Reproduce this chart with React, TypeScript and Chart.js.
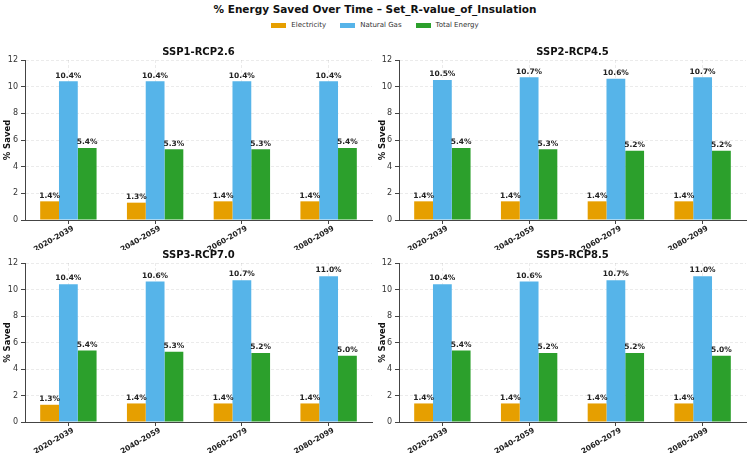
import React, { useEffect, useRef } from "react";
import { Chart, registerables } from "chart.js";

Chart.register(...registerables);

const chartTitle = "% Energy Saved Over Time – Set_R-value_of_Insulation";
const periods = ["2020-2039", "2040-2059", "2060-2079", "2080-2099"];
const seriesNames = ["Electricity", "Natural Gas", "Total Energy"];
const seriesColors = ["#E69F00", "#56B4E9", "#2CA02C"];
const scenarios = ["SSP1-RCP2.6", "SSP2-RCP4.5", "SSP3-RCP7.0", "SSP5-RCP8.5"];

const ssp1Electricity = [1.4, 1.3, 1.4, 1.4];
const ssp1NaturalGas = [10.4, 10.4, 10.4, 10.4];
const ssp1Total = [5.4, 5.3, 5.3, 5.4];

const ssp2Electricity = [1.4, 1.4, 1.4, 1.4];
const ssp2NaturalGas = [10.5, 10.7, 10.6, 10.7];
const ssp2Total = [5.4, 5.3, 5.2, 5.2];

const ssp3Electricity = [1.3, 1.4, 1.4, 1.4];
const ssp3NaturalGas = [10.4, 10.6, 10.7, 11.0];
const ssp3Total = [5.4, 5.3, 5.2, 5.0];

const ssp5Electricity = [1.4, 1.4, 1.4, 1.4];
const ssp5NaturalGas = [10.4, 10.6, 10.7, 11.0];
const ssp5Total = [5.4, 5.2, 5.2, 5.0];

const yMin = 0;
const yMax = 12;
const yStep = 2;
const yAxisTitle = "% Saved";

const FONT = "'DejaVu Sans', sans-serif";

type PanelProps = {
  title: string;
  series: number[][];
  left: number;
  top: number;
  width: number;
  height: number;
  yWidth: number;
  padTop: number;
  padRight: number;
  xHeight: number;
};

function Panel(p: PanelProps) {
  const ref = useRef<HTMLCanvasElement | null>(null);
  useEffect(() => {
    if (!ref.current) return;
    const labelPlugin = {
      id: "panelLabels",
      afterDatasetsDraw(chart: any) {
        const ctx = chart.ctx;
        ctx.save();
        ctx.font = `bold 7.5px ${FONT}`;
        ctx.fillStyle = "#222";
        ctx.textAlign = "center";
        ctx.textBaseline = "bottom";
        chart.data.datasets.forEach((ds: any, i: number) => {
          const meta = chart.getDatasetMeta(i);
          meta.data.forEach((el: any, j: number) => {
            ctx.fillText(Number(ds.data[j]).toFixed(1) + "%", el.x, el.y - 2);
          });
        });
        const area = chart.chartArea;
        ctx.font = `bold 10px ${FONT}`;
        ctx.fillStyle = "#111";
        ctx.textBaseline = "bottom";
        ctx.fillText(p.title, (area.left + area.right) / 2, area.top - 3);
        ctx.restore();
      },
    };
    const chart = new Chart(ref.current, {
      type: "bar",
      data: {
        labels: periods,
        datasets: seriesNames.map((name, i) => ({
          label: name,
          data: p.series[i],
          backgroundColor: seriesColors[i],
          borderWidth: 0,
          categoryPercentage: 0.65,
          barPercentage: 1.0,
        })),
      },
      options: {
        responsive: false,
        animation: false,
        devicePixelRatio: 1,
        layout: { padding: { top: p.padTop, right: p.padRight, left: 0, bottom: 0 } },
        plugins: {
          legend: { display: false },
          title: { display: false },
          tooltip: { enabled: false },
        },
        scales: {
          x: {
            offset: true,
            afterFit: (scale: any) => {
              scale.height = p.xHeight;
            },
            grid: {
              offset: false,
              color: "rgba(0,0,0,0.08)",
              drawTicks: true,
              tickLength: 4,
              tickColor: "#444",
            },
            border: { display: true, color: "#444", width: 1, dash: [3, 2] },
            ticks: {
              autoSkip: false,
              minRotation: 30,
              maxRotation: 30,
              padding: 0,
              labelOffset: 5,
              color: "#222",
              font: { family: FONT, size: 7.5, weight: "bold" },
            },
          },
          y: {
            min: yMin,
            max: yMax,
            afterFit: (scale: any) => {
              scale.width = p.yWidth;
            },
            grid: {
              color: "rgba(0,0,0,0.08)",
              drawTicks: true,
              tickLength: 4,
              tickColor: "#444",
            },
            border: { display: true, color: "#444", width: 1, dash: [3, 2] },
            ticks: {
              stepSize: yStep,
              padding: 3,
              color: "#333",
              font: { family: FONT, size: 8 },
            },
            title: {
              display: true,
              text: yAxisTitle,
              color: "#111",
              padding: { top: 3, bottom: 0 },
              font: { family: FONT, size: 8.5, weight: "bold" },
            },
          },
        },
      } as any,
      plugins: [labelPlugin],
    });
    return () => chart.destroy();
  }, []);
  return (
    <canvas
      ref={ref}
      width={p.width}
      height={p.height}
      style={{ position: "absolute", left: p.left, top: p.top, width: p.width, height: p.height }}
    />
  );
}

export default function App() {
  const panels: PanelProps[] = [
    { title: scenarios[0], series: [ssp1Electricity, ssp1NaturalGas, ssp1Total], left: 0, top: 40, width: 375, height: 210, yWidth: 25, padTop: 20, padRight: 3, xHeight: 30 },
    { title: scenarios[1], series: [ssp2Electricity, ssp2NaturalGas, ssp2Total], left: 375, top: 40, width: 375, height: 210, yWidth: 24, padTop: 20, padRight: 4, xHeight: 30 },
    { title: scenarios[2], series: [ssp3Electricity, ssp3NaturalGas, ssp3Total], left: 0, top: 243, width: 375, height: 210, yWidth: 25, padTop: 20, padRight: 3, xHeight: 31 },
    { title: scenarios[3], series: [ssp5Electricity, ssp5NaturalGas, ssp5Total], left: 375, top: 243, width: 375, height: 210, yWidth: 24, padTop: 20, padRight: 4, xHeight: 31 },
  ];
  return (
    <div
      style={{
        position: "fixed",
        left: 0,
        top: 0,
        width: 750,
        height: 453,
        background: "#fff",
        fontFamily: FONT,
        overflow: "hidden",
      }}
    >
      <div
        style={{
          position: "absolute",
          top: 1,
          left: 0,
          width: 750,
          textAlign: "center",
          fontWeight: "bold",
          fontSize: 10.5,
          color: "#111",
          lineHeight: "16px",
        }}
      >
        {chartTitle}
      </div>
      <div
        style={{
          position: "absolute",
          top: 19,
          left: 0,
          width: 750,
          display: "flex",
          justifyContent: "center",
          alignItems: "center",
          gap: 14,
          fontSize: 7,
          color: "#333",
          lineHeight: "12px",
        }}
      >
        {seriesNames.map((n, i) => (
          <div key={n} style={{ display: "flex", alignItems: "center", gap: 5 }}>
            <span style={{ display: "inline-block", width: 15, height: 5, background: seriesColors[i] }} />
            <span>{n}</span>
          </div>
        ))}
      </div>
      {panels.map((p) => (
        <Panel key={p.title} {...p} />
      ))}
    </div>
  );
}
